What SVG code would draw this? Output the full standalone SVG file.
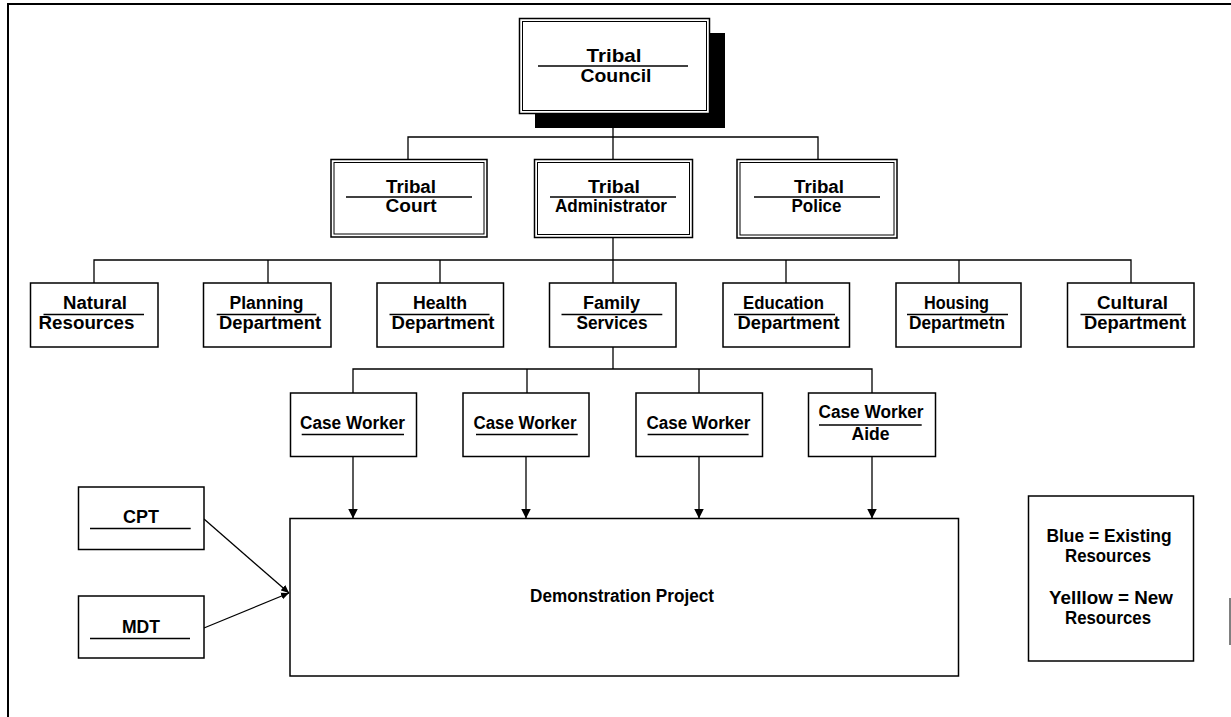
<svg xmlns="http://www.w3.org/2000/svg" width="1231" height="717" viewBox="0 0 1231 717">
<style>
  .box { fill: #fff; stroke: #000; stroke-width: 1.5; }
  .inner { fill: none; stroke: #000; stroke-width: 1; }
  .ul { stroke: #000; stroke-width: 1.3; }
  .conn { stroke: #000; stroke-width: 1.3; fill: none; }
  text { font-family: "Liberation Sans", Arial, sans-serif; font-weight: bold; font-size: 17.5px; fill: #000; text-anchor: middle; }
  .big { font-size: 18.5px; }
</style>
<defs>
  <marker id="arr" markerWidth="10" markerHeight="10" refX="10" refY="5" orient="auto" markerUnits="userSpaceOnUse">
    <path d="M0,0 L10,5 L0,10 Z" fill="#000"/>
  </marker>
  <marker id="arrS" markerWidth="8" markerHeight="8" refX="8" refY="4" orient="auto" markerUnits="userSpaceOnUse">
    <path d="M0,0.5 L8,4 L0,7.5 Z" fill="#000"/>
  </marker>
</defs>
<rect width="1231" height="717" fill="#fff"/>
<g id="frame">
  <path d="M8,717 V4 H1231" fill="none" stroke="#000" stroke-width="2"/>
  <line x1="1230" y1="598" x2="1230" y2="645" stroke="#000" stroke-width="1"/>
</g>
<g id="connectors">
  <line class="conn" x1="613" y1="113" x2="613" y2="159"/>
  <path class="conn" d="M408,159 V137 H818 V159"/>
  <line class="conn" x1="613" y1="238" x2="613" y2="283"/>
  <path class="conn" d="M94,283 V260 H1131 V283"/>
  <line class="conn" x1="268" y1="260" x2="268" y2="283"/>
  <line class="conn" x1="440" y1="260" x2="440" y2="283"/>
  <line class="conn" x1="786" y1="260" x2="786" y2="283"/>
  <line class="conn" x1="959" y1="260" x2="959" y2="283"/>
  <line class="conn" x1="613" y1="347" x2="613" y2="369"/>
  <path class="conn" d="M353,393 V369 H872 V393"/>
  <line class="conn" x1="527" y1="369" x2="527" y2="393"/>
  <line class="conn" x1="699" y1="369" x2="699" y2="393"/>
  <line class="conn" x1="353" y1="456.5" x2="353" y2="518.5" marker-end="url(#arr)"/>
  <line class="conn" x1="526" y1="456.5" x2="526" y2="518.5" marker-end="url(#arr)"/>
  <line class="conn" x1="699" y1="456.5" x2="699" y2="518.5" marker-end="url(#arr)"/>
  <line class="conn" x1="872" y1="456.5" x2="872" y2="518.5" marker-end="url(#arr)"/>
  <line class="conn" x1="204" y1="519" x2="289" y2="593" marker-end="url(#arrS)"/>
  <line class="conn" x1="204" y1="628" x2="289" y2="593" marker-end="url(#arrS)"/>
</g>
<g id="council">
  <rect x="535" y="33" width="190" height="95" fill="#000"/>
  <rect class="box" x="519.5" y="18.5" width="190" height="95"/>
  <rect class="inner" x="522.5" y="21.5" width="184" height="89"/>
  <text class="big" x="614" y="62" textLength="55" lengthAdjust="spacingAndGlyphs">Tribal</text>
  <line class="ul" x1="538" y1="66" x2="688" y2="66"/>
  <text class="big" x="616" y="82" textLength="71" lengthAdjust="spacingAndGlyphs">Council</text>
</g>
<g id="court">
  <rect class="box" x="331" y="159.5" width="156" height="77.5"/>
  <rect class="inner" x="334" y="162.5" width="150" height="71.5"/>
  <text x="411" y="193" textLength="50" lengthAdjust="spacingAndGlyphs">Tribal</text>
  <line class="ul" x1="346" y1="197" x2="472" y2="197"/>
  <text x="411" y="212" textLength="51" lengthAdjust="spacingAndGlyphs">Court</text>
</g>
<g id="administrator">
  <rect class="box" x="534.5" y="159.5" width="158" height="78"/>
  <rect class="inner" x="537.5" y="162.5" width="152" height="72"/>
  <text x="614" y="193" textLength="52" lengthAdjust="spacingAndGlyphs">Tribal</text>
  <line class="ul" x1="550" y1="197" x2="676" y2="197"/>
  <text x="611" y="212" textLength="112" lengthAdjust="spacingAndGlyphs">Administrator</text>
</g>
<g id="police">
  <rect class="box" x="737" y="159.5" width="160" height="78.5"/>
  <rect class="inner" x="740" y="162.5" width="154" height="72.5"/>
  <text x="819" y="193" textLength="50" lengthAdjust="spacingAndGlyphs">Tribal</text>
  <line class="ul" x1="754" y1="197" x2="880" y2="197"/>
  <text x="816.5" y="212" textLength="50" lengthAdjust="spacingAndGlyphs">Police</text>
</g>
<g id="natural">
  <rect class="box" x="30.5" y="283" width="127.5" height="64"/>
  <text x="95" y="309" textLength="64" lengthAdjust="spacingAndGlyphs">Natural</text>
  <line class="ul" x1="43.5" y1="314.5" x2="144" y2="314.5"/>
  <text x="86.5" y="329" textLength="96" lengthAdjust="spacingAndGlyphs">Resources</text>
</g>
<g id="planning">
  <rect class="box" x="203.5" y="283" width="127.5" height="64"/>
  <text x="266.5" y="309" textLength="74" lengthAdjust="spacingAndGlyphs">Planning</text>
  <line class="ul" x1="216.7" y1="314.5" x2="316.3" y2="314.5"/>
  <text x="270" y="329" textLength="102" lengthAdjust="spacingAndGlyphs">Department</text>
</g>
<g id="health">
  <rect class="box" x="377" y="283" width="126.5" height="64"/>
  <text x="440" y="309" textLength="54" lengthAdjust="spacingAndGlyphs">Health</text>
  <line class="ul" x1="389.5" y1="314.5" x2="489.5" y2="314.5"/>
  <text x="443" y="329" textLength="103" lengthAdjust="spacingAndGlyphs">Department</text>
</g>
<g id="family">
  <rect class="box" x="549.5" y="283" width="126.5" height="64"/>
  <text x="611.5" y="309" textLength="57" lengthAdjust="spacingAndGlyphs">Family</text>
  <line class="ul" x1="561.5" y1="314.5" x2="662.3" y2="314.5"/>
  <text x="612" y="329" textLength="71" lengthAdjust="spacingAndGlyphs">Services</text>
</g>
<g id="education">
  <rect class="box" x="723" y="283" width="126.5" height="64"/>
  <text x="783.5" y="309" textLength="81" lengthAdjust="spacingAndGlyphs">Education</text>
  <line class="ul" x1="734" y1="314.5" x2="835" y2="314.5"/>
  <text x="788.5" y="329" textLength="102" lengthAdjust="spacingAndGlyphs">Department</text>
</g>
<g id="housing">
  <rect class="box" x="896" y="283" width="125" height="64"/>
  <text x="956.5" y="309" textLength="65" lengthAdjust="spacingAndGlyphs">Housing</text>
  <line class="ul" x1="907" y1="314.5" x2="1008" y2="314.5"/>
  <text x="957" y="329" textLength="96" lengthAdjust="spacingAndGlyphs">Departmetn</text>
</g>
<g id="cultural">
  <rect class="box" x="1067.5" y="283" width="126.5" height="64"/>
  <text x="1132.5" y="309" textLength="71" lengthAdjust="spacingAndGlyphs">Cultural</text>
  <line class="ul" x1="1080.5" y1="314.5" x2="1181.5" y2="314.5"/>
  <text x="1135" y="329" textLength="102" lengthAdjust="spacingAndGlyphs">Department</text>
</g>
<g id="caseworker1">
  <rect class="box" x="290.5" y="393" width="126" height="63.5"/>
  <text x="352.5" y="429.3" textLength="105" lengthAdjust="spacingAndGlyphs">Case Worker</text>
  <line class="ul" x1="301.7" y1="434.5" x2="404" y2="434.5"/>
</g>
<g id="caseworker2">
  <rect class="box" x="463" y="393" width="126" height="63.5"/>
  <text x="525" y="429.3" textLength="103" lengthAdjust="spacingAndGlyphs">Case Worker</text>
  <line class="ul" x1="476" y1="434.5" x2="577.7" y2="434.5"/>
</g>
<g id="caseworker3">
  <rect class="box" x="636" y="393" width="126.5" height="63.5"/>
  <text x="698.5" y="429.3" textLength="104" lengthAdjust="spacingAndGlyphs">Case Worker</text>
  <line class="ul" x1="647.6" y1="434.5" x2="748.6" y2="434.5"/>
</g>
<g id="caseworkeraide">
  <rect class="box" x="808.5" y="393" width="127" height="63.5"/>
  <text x="871" y="418.3" textLength="105" lengthAdjust="spacingAndGlyphs">Case Worker</text>
  <line class="ul" x1="819" y1="425" x2="921.7" y2="425"/>
  <text x="870.5" y="440" textLength="38" lengthAdjust="spacingAndGlyphs">Aide</text>
</g>
<g id="cpt">
  <rect class="box" x="78.5" y="487" width="125.5" height="62.5"/>
  <text x="141" y="523.3" textLength="36" lengthAdjust="spacingAndGlyphs">CPT</text>
  <line class="ul" x1="90" y1="528.5" x2="190.7" y2="528.5"/>
</g>
<g id="mdt">
  <rect class="box" x="78.5" y="596" width="125.5" height="62"/>
  <text x="141" y="632.7" textLength="38" lengthAdjust="spacingAndGlyphs">MDT</text>
  <line class="ul" x1="90" y1="638.5" x2="190" y2="638.5"/>
</g>
<g id="demonstration">
  <rect class="box" x="290" y="518.5" width="668.5" height="157.5"/>
  <text x="622" y="602" textLength="184" lengthAdjust="spacingAndGlyphs">Demonstration Project</text>
</g>
<g id="legend">
  <rect class="box" x="1028.5" y="496" width="165" height="165"/>
  <text x="1109" y="541.7" textLength="125" lengthAdjust="spacingAndGlyphs">Blue = Existing</text>
  <text x="1108" y="561.7" textLength="86" lengthAdjust="spacingAndGlyphs">Resources</text>
  <text x="1111" y="604" textLength="124" lengthAdjust="spacingAndGlyphs">Yelllow = New</text>
  <text x="1108" y="624" textLength="86" lengthAdjust="spacingAndGlyphs">Resources</text>
</g>
</svg>
